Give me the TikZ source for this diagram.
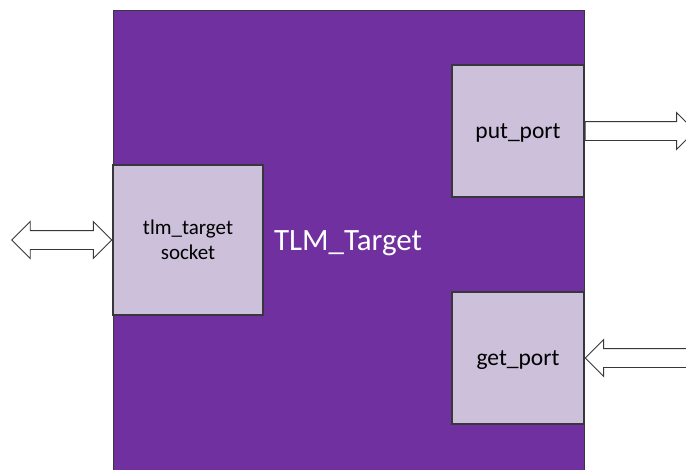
\documentclass[tikz,border=0pt]{standalone}
\usepackage{fontspec}
\setmainfont{Carlito}
\usepackage{xcolor}
\usetikzlibrary{shapes.arrows}
\definecolor{plum}{HTML}{7030A0}
\definecolor{lilac}{HTML}{CCC0DA}
\definecolor{edge}{RGB}{55,55,60}

\begin{document}
\begin{tikzpicture}[x=1pt, y=-1pt, every node/.style={font=\fontsize{21}{24}\selectfont},
      port/.style={draw=edge, fill=lilac, line width=1.2pt, minimum width=132pt,
                   minimum height=132pt, align=center, inner sep=0pt,
                   font=\fontsize{23.5}{26}\selectfont},
      bigarrow/.style={draw=edge, fill=white, line width=0.9pt, inner xsep=0pt,
                       inner ysep=9pt, font=\fontsize{1}{1}\selectfont}]
    \clip (0,0) rectangle (686,469);
    \node[draw=edge, fill=plum, line width=1.2pt, minimum width=471pt, minimum height=480pt,
          anchor=north west, inner sep=0pt] (target) at (113,10) {};
    \node[text=white, font=\fontsize{31}{34}\selectfont] (title) at (348,243) {TLM\_Target};
    \node[port, minimum width=150pt, minimum height=150pt,
          font=\fontsize{21}{25}\selectfont] (sock) at (188,240) {tlm\_target\\socket};
    \node[port, text depth=0pt] (put) at (518,131) {put\_port};
    \node[port, text depth=0pt] (get) at (518,358) {get\_port};
    \node[bigarrow, double arrow, double arrow head extend=9pt, minimum height=100pt,
          anchor=east] (link) at (sock.west) {};
    \node[bigarrow, single arrow, single arrow head extend=9pt, minimum height=110pt,
          anchor=tail] (out) at (put.east) {};
    \node[bigarrow, single arrow, single arrow head extend=9pt, minimum height=110pt,
          shape border rotate=180, anchor=tip] (in) at (get.east) {};
\end{tikzpicture}
\end{document}
